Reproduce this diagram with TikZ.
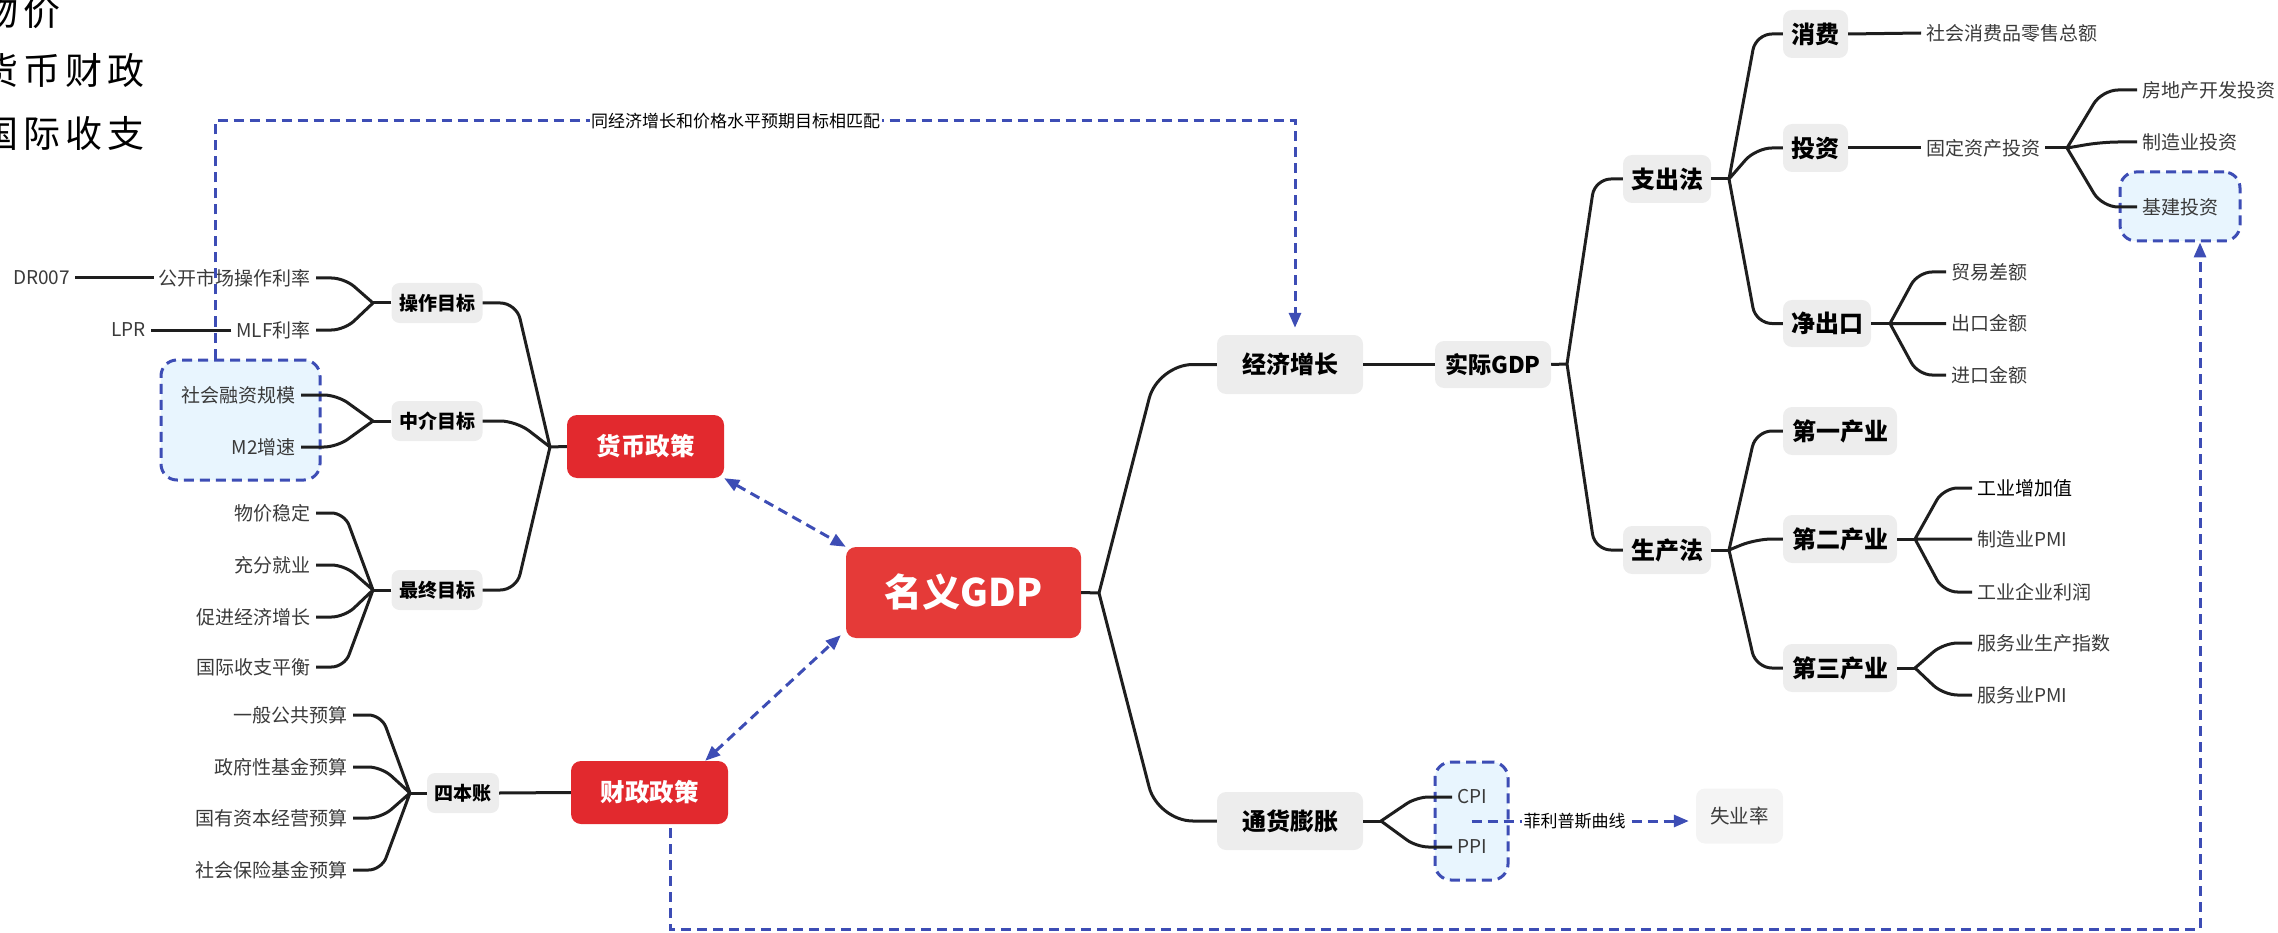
\documentclass[tikz,border=0pt]{standalone}
\usepackage{fontspec}
\setmainfont{Noto Sans CJK SC}
\usetikzlibrary{calc,arrows.meta}
\definecolor{redA}{HTML}{E2292E}
\definecolor{redB}{HTML}{E53A38}
\definecolor{hubgray}{HTML}{EDEDED}
\definecolor{sylgray}{HTML}{F4F4F4}
\definecolor{linek}{HTML}{1E1E1E}
\definecolor{dblue}{HTML}{3D4DB5}
\definecolor{zonefill}{HTML}{E8F5FE}
\definecolor{leafc}{HTML}{3A3A3A}
\newcommand\fsz[1]{\fontsize{#1}{#1}\selectfont}
\begin{document}
\begin{tikzpicture}[x=1pt,y=-1pt,
 conn/.style={draw=linek, line width=3pt},
 dline/.style={draw=dblue, line width=3pt, dash pattern=on 10pt off 6pt},
 arr/.style={-{Triangle[length=15pt,width=12pt]}},
 darr/.style={{Triangle[length=15pt,width=12pt]}-{Triangle[length=15pt,width=12pt]}},
 leaf/.style={font=\fsz{19}, text=leafc, inner xsep=5pt, inner ysep=2pt},
 hub/.style={fill=hubgray, rounded corners=8pt, font=\fsz{19}\bfseries, inner sep=0pt, minimum height=40pt},
 topic/.style={fill=hubgray, rounded corners=9pt, font=\fsz{24}\bfseries, inner sep=0pt},
 rbox/.style={fill=redA, rounded corners=10pt, text=white, font=\fsz{24.5}\bfseries, inner sep=0pt, minimum width=157pt, minimum height=63pt},
 zone/.style={draw=dblue, fill=zonefill, line width=3pt, dash pattern=on 10pt off 6pt, rounded corners=16pt, inner sep=0pt},
 lab/.style={fill=white, inner sep=1.5pt, font=\fsz{17}, text=black},
 big/.style={anchor=west, inner sep=0pt, font=\fsz{37}},
 br/.style={to path={let \p1=(\tikztostart), \p2=(\tikztotarget) in -- ({0.5*\x1+0.5*\x2},\y2) -- (\tikztotarget)}},
]
\useasboundingbox (0,0) rectangle (2278,933);

% top-left text, cut off by the edge as in the reference
\node[big] (tl1) at (-19,12) {物\hspace{5pt}价};
\node[big] (tl2) at (-19,70) {货\hspace{5pt}币\hspace{5pt}财\hspace{5pt}政};
\node[big] (tl3) at (-19,133) {国\hspace{5pt}际\hspace{5pt}收\hspace{5pt}支};

% dashed zones
\node[zone, minimum width=159pt, minimum height=120pt] (zone1) at (240.5,420) {};
\node[zone, minimum width=73pt, minimum height=118pt] (zone2) at (1471.5,821) {};
\node[zone, minimum width=120pt, minimum height=69pt] (zone3) at (2180,206.5) {};

% ---------------- monetary policy ----------------
\node[leaf, anchor=east] (dr) at (75,278) {DR007};
\node[leaf, anchor=east] (gk) at (316,278) {公开市场操作利率};
\node[leaf, anchor=east] (lpr) at (151,330) {LPR};
\node[leaf, anchor=east] (mlf) at (316,330) {MLF利率};
\node[hub, minimum width=91pt] (czmb) at (437,303) {操作目标};
\coordinate (j1) at (373,303);

\node[leaf, anchor=east] (shrz) at (301,395) {社会融资规模};
\node[leaf, anchor=east] (m2) at (301,447) {M2增速};
\node[hub, minimum width=91pt] (zjmb) at (437,421) {中介目标};
\coordinate (j2) at (373,421);

\node[leaf, anchor=east] (wj) at (316,513) {物价稳定};
\node[leaf, anchor=east] (cf) at (316,565) {充分就业};
\node[leaf, anchor=east] (cj) at (316,617) {促进经济增长};
\node[leaf, anchor=east] (gj) at (316,667) {国际收支平衡};
\node[hub, minimum width=91pt] (zzmb) at (437,590) {最终目标};
\coordinate (j3) at (373,590);

\node[rbox] (hb) at (645.5,446.5) {货币政策};
\coordinate (jm) at (550,447);

% ---------------- fiscal policy ----------------
\node[leaf, anchor=east] (yb) at (353,715) {一般公共预算};
\node[leaf, anchor=east] (zf) at (353,767) {政府性基金预算};
\node[leaf, anchor=east] (gy) at (353,818) {国有资本经营预算};
\node[leaf, anchor=east] (sb) at (353,870) {社会保险基金预算};
\node[hub, minimum width=72pt] (sbz) at (463,793) {四本账};
\coordinate (jf) at (410,793);
\node[rbox] (cz) at (649.5,792.5) {财政政策};

% ---------------- centre ----------------
\node[rbox, fill=redB, minimum width=235pt, minimum height=91pt, font=\fsz{38}\bfseries] (gdp) at (963.5,592.5) {名义GDP};
\coordinate (jg) at (1099,593);

% ---------------- right ----------------
\node[topic, minimum width=146pt, minimum height=59pt] (jjzz) at (1290,364.5) {经济增长};
\node[topic, minimum width=116pt, minimum height=47pt, font=\fsz{23}\bfseries] (sjgdp) at (1493,364.5) {实际GDP};
\coordinate (jr) at (1567,364);

\node[topic, minimum width=88pt, minimum height=48pt] (zcf) at (1667,179) {支出法};
\coordinate (jz) at (1729,179);
\node[topic, minimum width=65pt, minimum height=48pt] (xf) at (1815.5,34) {消费};
\node[leaf, anchor=west] (shxf) at (1921,33) {社会消费品零售总额};
\node[topic, minimum width=65pt, minimum height=48pt] (tz) at (1815.5,148) {投资};
\node[leaf, anchor=west] (gdzc) at (1921,148) {固定资产投资};
\coordinate (jt) at (2067,148);
\node[leaf, anchor=west] (fdc) at (2137,90) {房地产开发投资};
\node[leaf, anchor=west] (zzy) at (2137,142) {制造业投资};
\node[leaf, anchor=west] (jjt) at (2137,207) {基建投资};
\node[topic, minimum width=88pt, minimum height=47pt] (jck) at (1827,323.5) {净出口};
\coordinate (jn) at (1890,323.5);
\node[leaf, anchor=west] (my) at (1946,272) {贸易差额};
\node[leaf, anchor=west] (ck) at (1946,323.5) {出口金额};
\node[leaf, anchor=west] (jk) at (1946,375) {进口金额};

\node[topic, minimum width=88pt, minimum height=48pt] (scf) at (1667,550) {生产法};
\coordinate (js) at (1729,550);
\node[topic, minimum width=114pt, minimum height=48pt] (dy) at (1840,431) {第一产业};
\node[topic, minimum width=114pt, minimum height=48pt] (de) at (1840,539) {第二产业};
\node[topic, minimum width=114pt, minimum height=48pt] (ds) at (1840,668) {第三产业};
\coordinate (jd2) at (1915,539);
\node[leaf, anchor=west, text=black] (gyzj) at (1972,488) {工业增加值};
\node[leaf, anchor=west] (zzpmi) at (1972,539) {制造业PMI};
\node[leaf, anchor=west] (gyqy) at (1972,592) {工业企业利润};
\coordinate (jd3) at (1915,668);
\node[leaf, anchor=west] (fwsc) at (1972,643) {服务业生产指数};
\node[leaf, anchor=west] (fwpmi) at (1972,695) {服务业PMI};

\node[topic, minimum width=146pt, minimum height=58pt] (thpz) at (1290,821) {通货膨胀};
\coordinate (jtz) at (1381,821);
\node[leaf, anchor=west] (cpi) at (1452,797) {CPI};
\node[leaf, anchor=west] (ppi) at (1452,847) {PPI};
\node[fill=sylgray, rounded corners=9pt, minimum width=87pt, minimum height=55pt, inner sep=0pt, font=\fsz{19.5}, text=leafc] (syl) at (1739.5,816) {失业率};

% ---------------- connectors ----------------
% monetary
\draw[conn] (gk.west) -- (dr.east);
\draw[conn] (mlf.west) -- (lpr.east);
\draw[conn] (czmb.west) -- (j1);
\draw[conn, rounded corners=13pt] (j1) to[br] (gk.east) (j1) to[br] (mlf.east);
\draw[conn] (zjmb.west) -- (j2);
\draw[conn, rounded corners=13pt] (j2) to[br] (shrz.east) (j2) to[br] (m2.east);
\draw[conn] (zzmb.west) -- (j3);
\draw[conn, rounded corners=13pt] (j3) to[br] (wj.east) (j3) to[br] (cf.east) (j3) to[br] (cj.east) (j3) to[br] (gj.east);
\draw[conn] (hb.west) -- (jm);
\draw[conn, rounded corners=16pt] (jm) to[br] (czmb.east) (jm) to[br] (zjmb.east) (jm) to[br] (zzmb.east);
% fiscal
\draw[conn] (sbz.west) -- (jf);
\draw[conn, rounded corners=13pt] (jf) to[br] (yb.east) (jf) to[br] (zf.east) (jf) to[br] (gy.east) (jf) to[br] (sb.east);
\draw[conn] (sbz.east) -- (cz.west);
% right
\draw[conn] (gdp.east) -- (jg);
\draw[conn, rounded corners=35pt] (jg) to[br] (jjzz.west) (jg) to[br] (thpz.west);
\draw[conn] (jjzz.east) -- (sjgdp.west);
\draw[conn] (sjgdp.east) -- (jr);
\draw[conn, rounded corners=16pt] (jr) to[br] (zcf.west) (jr) to[br] (scf.west);
\draw[conn] (zcf.east) -- (jz);
\draw[conn, rounded corners=16pt] (jz) to[br] (xf.west) (jz) to[br] (tz.west) (jz) to[br] (jck.west);
\draw[conn] (xf.east) -- (shxf.west);
\draw[conn] (tz.east) -- (gdzc.west);
\draw[conn] (gdzc.east) -- (jt);
\draw[conn, rounded corners=16pt] (jt) to[br] (fdc.west) (jt) to[br] (zzy.west) (jt) to[br] (jjt.west);
\draw[conn] (jck.east) -- (jn);
\draw[conn, rounded corners=14pt] (jn) to[br] (my.west) (jn) -- (ck.west) (jn) to[br] (jk.west);
\draw[conn] (scf.east) -- (js);
\draw[conn, rounded corners=16pt] (js) to[br] (dy.west) (js) to[br] (de.west) (js) to[br] (ds.west);
\draw[conn] (de.east) -- (jd2);
\draw[conn, rounded corners=14pt] (jd2) to[br] (gyzj.west) (jd2) -- (zzpmi.west) (jd2) to[br] (gyqy.west);
\draw[conn] (ds.east) -- (jd3);
\draw[conn, rounded corners=14pt] (jd3) to[br] (fwsc.west) (jd3) to[br] (fwpmi.west);
\draw[conn] (thpz.east) -- (jtz);
\draw[conn, rounded corners=12pt] (jtz) to[br] (cpi.west) (jtz) to[br] (ppi.west);

% dashed relations
\draw[dline, darr] (hb.south east) -- (gdp.north west);
\draw[dline, darr] ([xshift=-23pt]cz.north east) -- ([shift={(-5pt,3pt)}]gdp.south west);

\coordinate (k1) at (215,121);
\coordinate (k2) at (1295,121);
\draw[dline, arr, shorten >=7pt] (zone1.north -| k1) -- (k1) -- node[lab, pos=0.482] {同经济增长和价格水平预期目标相匹配} (k2) -- (k2 |- jjzz.north);

\coordinate (k3) at (670,929);
\coordinate (k4) at (2200,929);
\draw[dline, arr, shorten <=4pt] (cz.south -| k3) -- (k3) -- (k4) -- (k4 |- zone3.south);

\draw[dline, arr, shorten >=7pt] (zone2.center) -- node[lab, pos=0.46] {菲利普斯曲线} (zone2.center -| syl.west);
\end{tikzpicture}
\end{document}
